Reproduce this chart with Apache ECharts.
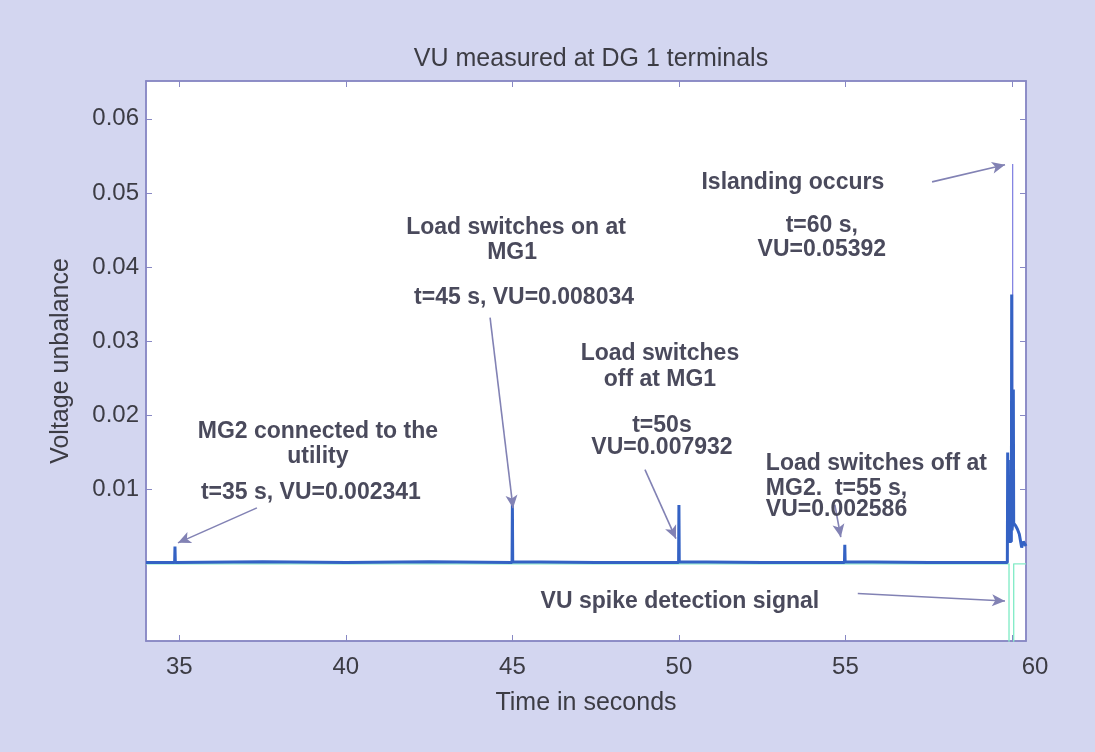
<!DOCTYPE html>
<html>
<head>
<meta charset="utf-8">
<script src="https://cdn.jsdelivr.net/npm/echarts@6/dist/echarts.min.js"></script>
<style>
html,body{margin:0;padding:0;background:#d3d6f0;}
#c{width:1095px;height:752px;}
</style>
</head>
<body>
<div id="c"></div>
<script>
// ---- data ----
const xTicks = [35, 40, 45, 50, 55, 60];
const yTicks = [0.01, 0.02, 0.03, 0.04, 0.05, 0.06];

// VU measured at DG1 terminals (time s, VU)
const vuSeries = [
  [34.00,0.0002],[34.86,0.0002],[34.87,0.00234],[34.88,0.0002],
  [37.5,0.0003],[40.0,0.0002],[42.5,0.0003],
  [44.99,0.0002],[45.00,0.008034],[45.01,0.0003],
  [47.5,0.0002],
  [49.99,0.0002],[50.00,0.007932],[50.01,0.0003],
  [52.5,0.0002],
  [54.97,0.0002],[54.98,0.002586],[54.99,0.0003],
  [57.5,0.0002],
  [59.86,0.0002],[59.87,0.0150],[59.88,0.0035],[59.89,0.0140],[59.90,0.0030],
  [59.98,0.0030],[59.99,0.0363],[60.00,0.0045],[60.03,0.0060],[60.04,0.0235],
  [60.05,0.0055],[60.10,0.0052],[60.16,0.0047],[60.22,0.0040],[60.29,0.0022],
  [60.34,0.0030],[60.42,0.0024]
];
// thin islanding peak
const islandPeak = [[60.02,0.0050],[60.02,0.05392]];
// VU spike detection signal
const detectSignal = [[34.00,0],[59.91,0],[59.91,-0.02],[60.05,-0.02],[60.05,0],[60.42,0]];

const xMin = 34.0, xMax = 60.42, yMin = -0.0104, yMax = 0.0651;

// annotations: [x, y, text, align]
const notes = [
  [39.16, 0.0178, 'MG2 connected to the', 'center'],
  [39.16, 0.01443, 'utility', 'center'],
  [38.95, 0.00957, 't=35 s, VU=0.002341', 'center'],
  [45.11, 0.0453, 'Load switches on at', 'center'],
  [44.99, 0.0419, 'MG1', 'center'],
  [45.35, 0.0359, 't=45 s, VU=0.008034', 'center'],
  [49.43, 0.0283, 'Load switches', 'center'],
  [49.43, 0.0249, 'off at MG1', 'center'],
  [49.49, 0.0187, 't=50s', 'center'],
  [49.49, 0.0156, 'VU=0.007932', 'center'],
  [52.61, 0.0135, 'Load switches off at', 'left'],
  [52.61, 0.0102, 'MG2.  t=55 s,', 'left'],
  [52.61, 0.0073, 'VU=0.002586', 'left'],
  [53.42, 0.0514, 'Islanding occurs', 'center'],
  [54.29, 0.0456, 't=60 s,', 'center'],
  [54.29, 0.0423, 'VU=0.05392', 'center'],
  [50.03, -0.0051, 'VU spike detection signal', 'center']
];
// arrows: [x1, y1, x2, y2]
const arrows = [
  [37.33, 0.00755, 34.96, 0.00283],
  [44.33, 0.0332, 45.02, 0.0075],
  [48.98, 0.0127, 49.91, 0.0034],
  [54.68, 0.0080, 54.86, 0.0036],
  [57.60, 0.0515, 59.79, 0.0538],
  [55.37, -0.0040, 59.79, -0.0050]
];

const textColor = '#3c3c44';
const axisColor = '#8888c4';
const font = 'Liberation Sans, Arial, sans-serif';

const chart = echarts.init(document.getElementById('c'), null, {renderer: 'canvas'});

const baseX = {
  type: 'value', min: xMin, max: xMax,
  axisLine: {show: true, onZero: false, lineStyle: {color: axisColor, width: 1.5}},
  axisTick: {show: true, inside: true, length: 6, customValues: xTicks, lineStyle: {color: axisColor}},
  splitLine: {show: false}
};
const baseY = {
  type: 'value', min: yMin, max: yMax,
  axisLine: {show: true, onZero: false, lineStyle: {color: axisColor, width: 1.5}},
  axisTick: {show: true, inside: true, length: 6, customValues: yTicks, lineStyle: {color: axisColor}},
  splitLine: {show: false}
};

chart.setOption({
  backgroundColor: '#d3d6f0',
  animation: false,
  title: {
    text: 'VU measured at DG 1 terminals',
    left: 586, top: 42, textAlign: 'center',
    textStyle: {fontFamily: font, fontSize: 25, fontWeight: 'normal', color: textColor}
  },
  grid: {left: 146, right: 69, top: 81, bottom: 111, show: true, backgroundColor: '#ffffff', borderColor: axisColor, borderWidth: 1.5},
  xAxis: [
    Object.assign({}, baseX, {
      position: 'bottom',
      name: 'Time in seconds', nameLocation: 'middle', nameGap: 50,
      nameTextStyle: {fontFamily: font, fontSize: 25, color: textColor},
      axisLabel: {show: true, margin: 14, customValues: xTicks, fontFamily: font, fontSize: 24, color: textColor,
        formatter: v => v === 60 ? '{r|60}' : String(v),
        rich: {r: {fontFamily: font, fontSize: 24, color: textColor, padding: [0, 0, 0, 46]}}}
    }),
    Object.assign({}, baseX, {position: 'top', axisLabel: {show: false}})
  ],
  yAxis: [
    Object.assign({}, baseY, {
      position: 'left',
      name: 'Voltage unbalance', nameLocation: 'middle', nameGap: 72,
      nameTextStyle: {fontFamily: font, fontSize: 25, color: textColor},
      axisLabel: {show: true, margin: 7, customValues: yTicks, fontFamily: font, fontSize: 24, color: textColor,
        formatter: v => v.toFixed(2)}
    }),
    Object.assign({}, baseY, {position: 'right', axisLabel: {show: false}})
  ],
  series: [
    {
      type: 'line', data: detectSignal, showSymbol: false, clip: true, silent: true,
      lineStyle: {color: '#86ecc8', width: 1.4}, z: 1
    },
    {
      type: 'line', data: vuSeries, showSymbol: false, clip: true, silent: true,
      lineStyle: {color: '#3462c4', width: 3}, z: 3,
      markLine: {
        silent: true, animation: false,
        symbol: ['none', 'arrow'], symbolSize: [9, 13],
        lineStyle: {color: '#8282b4', width: 1.6, type: 'solid'},
        itemStyle: {color: '#4c4c66'},
        label: {show: false},
        emphasis: {disabled: true},
        data: arrows.map(a => [{coord: [a[0], a[1]]}, {coord: [a[2], a[3]]}])
      },
      markPoint: {
        silent: true, animation: false,
        symbol: 'circle', symbolSize: 0,
        data: notes.map(n => ({
          coord: [n[0], n[1]], value: n[2],
          label: {show: true, position: 'inside', formatter: n[2], align: n[3], verticalAlign: 'middle',
            fontFamily: font, fontSize: 23, fontWeight: 'bold', color: '#4a4a5c'}
        }))
      }
    },
    {
      type: 'line', data: islandPeak, showSymbol: false, clip: true, silent: true,
      lineStyle: {color: '#7c7ce0', width: 1.2}, z: 2
    }
  ]
});
</script>
</body>
</html>
